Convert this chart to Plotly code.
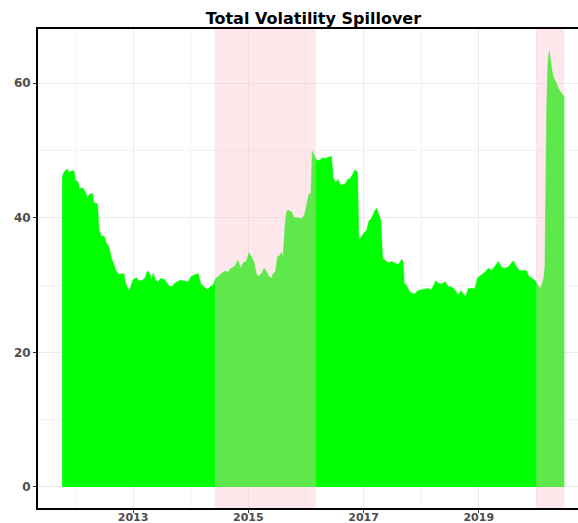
import plotly.graph_objects as go

# ---- data ----
years = [
    2011.769, 2011.786, 2011.815, 2011.861, 2011.884, 2011.913, 2011.942, 2011.977,
    2012.000, 2012.046, 2012.064, 2012.133, 2012.174, 2012.203, 2012.249, 2012.295,
    2012.324, 2012.382, 2012.411, 2012.451, 2012.498, 2012.538, 2012.584, 2012.625,
    2012.671, 2012.712, 2012.752, 2012.799, 2012.839, 2012.874, 2012.926, 2012.961,
    2013.001, 2013.059, 2013.100, 2013.157, 2013.204, 2013.250, 2013.291, 2013.319,
    2013.348, 2013.389, 2013.435, 2013.481, 2013.551, 2013.609, 2013.667, 2013.713,
    2013.771, 2013.811, 2013.898, 2013.956, 2014.002, 2014.060, 2014.130, 2014.176,
    2014.234, 2014.292, 2014.332, 2014.390, 2014.431, 2014.488, 2014.535, 2014.593,
    2014.650, 2014.697, 2014.766, 2014.824, 2014.865, 2014.911, 2014.969, 2015.009,
    2015.056, 2015.102, 2015.142, 2015.183, 2015.229, 2015.275, 2015.316, 2015.356,
    2015.403, 2015.432, 2015.472, 2015.507, 2015.547, 2015.576, 2015.605, 2015.634,
    2015.663, 2015.692, 2015.750, 2015.796, 2015.837, 2015.895, 2015.935, 2015.981,
    2016.010, 2016.051, 2016.086, 2016.109, 2016.144, 2016.184, 2016.242, 2016.282,
    2016.340, 2016.387, 2016.444, 2016.473, 2016.514, 2016.560, 2016.606, 2016.647,
    2016.688, 2016.722, 2016.763, 2016.803, 2016.850, 2016.896, 2016.919, 2016.965,
    2017.012, 2017.052, 2017.093, 2017.139, 2017.185, 2017.226, 2017.266, 2017.301,
    2017.330, 2017.370, 2017.428, 2017.486, 2017.544, 2017.602, 2017.660, 2017.689,
    2017.706, 2017.747, 2017.787, 2017.833, 2017.891, 2017.949, 2018.007, 2018.065,
    2018.123, 2018.181, 2018.250, 2018.296, 2018.354, 2018.412, 2018.470, 2018.528,
    2018.586, 2018.644, 2018.690, 2018.730, 2018.771, 2018.817, 2018.875, 2018.933,
    2018.979, 2019.049, 2019.107, 2019.164, 2019.222, 2019.280, 2019.338, 2019.396,
    2019.454, 2019.512, 2019.558, 2019.598, 2019.656, 2019.715, 2019.772, 2019.830,
    2019.870, 2019.928, 2019.975, 2020.021, 2020.061, 2020.090, 2020.131, 2020.148,
    2020.166, 2020.177, 2020.200, 2020.223, 2020.264, 2020.293, 2020.339, 2020.380,
    2020.438, 2020.484,
]
spillover = [
    45.8, 46.5, 46.9, 47.3, 46.7, 46.9, 47.0, 46.9,
    45.6, 45.3, 44.4, 44.4, 43.8, 43.0, 43.5, 43.6,
    42.2, 42.1, 38.2, 37.2, 37.3, 36.2, 35.6, 34.0,
    32.8, 32.0, 31.6, 31.6, 31.7, 30.2, 29.2, 29.8,
    30.8, 31.1, 30.6, 30.7, 31.0, 32.1, 31.7, 30.8,
    31.8, 30.7, 30.5, 31.0, 30.8, 30.0, 29.7, 30.2,
    30.5, 30.7, 30.6, 30.5, 31.2, 31.5, 31.7, 30.2,
    29.7, 29.3, 29.7, 30.0, 31.0, 31.3, 31.7, 32.1,
    31.9, 32.5, 32.8, 33.7, 32.5, 33.3, 33.6, 34.8,
    34.2, 33.3, 31.6, 31.3, 31.7, 32.5, 32.0, 31.3,
    31.0, 31.7, 32.0, 34.2, 34.4, 34.9, 34.2, 38.6,
    40.9, 41.1, 40.9, 40.0, 40.0, 39.9, 39.9, 40.6,
    41.9, 43.5, 43.6, 49.9, 49.3, 48.6, 48.5, 48.9,
    48.8, 49.0, 49.1, 46.0, 45.2, 45.7, 44.8, 45.0,
    45.1, 45.7, 45.8, 46.3, 47.1, 46.8, 36.7, 37.2,
    37.8, 38.1, 39.5, 39.9, 40.9, 41.4, 40.5, 39.6,
    34.0, 33.7, 33.3, 33.5, 33.2, 33.0, 33.8, 33.5,
    30.3, 29.9, 29.2, 28.8, 28.7, 29.2, 29.3, 29.4,
    29.5, 29.3, 30.6, 30.3, 30.1, 30.5, 29.8, 29.7,
    29.3, 28.5, 29.2, 28.7, 28.3, 29.5, 29.5, 29.5,
    31.1, 31.5, 31.9, 32.5, 32.2, 32.8, 33.5, 32.6,
    32.5, 32.7, 33.2, 33.6, 32.7, 32.1, 32.2, 32.1,
    31.3, 31.0, 30.7, 30.1, 29.5, 29.9, 31.2, 32.7,
    49.6, 56.0, 63.0, 64.8, 62.2, 60.9, 60.2, 59.2,
    58.5, 58.0,
]
# shaded crisis periods (start, end) in decimal years
crisis_start = [2014.419, 2019.997]
crisis_end = [2016.172, 2020.484]

x_tick_vals = [2013, 2015, 2017, 2019]
x_tick_text = ["2013", "2015", "2017", "2019"]
x_minor_vals = [2012, 2014, 2016, 2018, 2020]
y_tick_vals = [0, 20, 40, 60]
y_minor_vals = [10, 30, 50]

title_text = "Total Volatility Spillover"

# ---- figure ----
fig = go.Figure()
fig.add_trace(go.Scatter(
    x=years, y=spillover, mode="lines", fill="tozeroy",
    fillcolor="#00FF00", line=dict(color="#00FF00", width=0.5),
    hoverinfo="x+y", showlegend=False,
))

for s, e in zip(crisis_start, crisis_end):
    fig.add_shape(type="rect", xref="x", yref="paper", x0=s, x1=e, y0=0, y1=1,
                  fillcolor="rgba(255,192,203,0.37)", line=dict(width=0), layer="above")

tick_font = dict(family="DejaVu Sans", size=12, color="#4D4D4D", weight="bold")
xtick_font = dict(family="DejaVu Sans", size=11, color="#4D4D4D", weight="bold")

fig.update_layout(
    width=578, height=523,
    margin=dict(l=38, r=0, t=29, b=15, autoexpand=False),
    paper_bgcolor="white", plot_bgcolor="white",
    title=dict(text=title_text, x=0.51, xref="paper", xanchor="center",
               y=1 - 18.5 / 523, yref="container", yanchor="middle",
               font=dict(family="DejaVu Sans", size=16, color="black", weight="bold")),
    xaxis=dict(range=[2011.35, 2020.722], tickmode="array", tickvals=x_tick_vals,
               ticktext=x_tick_text, ticks="outside", ticklen=3, tickcolor="#333333",
               tickwidth=1, tickfont=xtick_font, ticklabelstandoff=-5,
               showgrid=True, gridcolor="#EBEBEB", automargin=False,
               gridwidth=1, zeroline=False, showline=True, linecolor="black",
               linewidth=2, mirror=True,
               minor=dict(tickmode="array", tickvals=x_minor_vals, showgrid=True,
                          gridcolor="#F3F3F3", gridwidth=1, ticklen=0)),
    yaxis=dict(range=[-3.13, 68.05], tickmode="array", tickvals=y_tick_vals,
               ticks="outside", ticklen=3, tickcolor="#333333", tickwidth=1,
               tickfont=tick_font, showgrid=True, gridcolor="#EBEBEB", gridwidth=1,
               automargin=False,
               zeroline=False, showline=True, linecolor="black", linewidth=2,
               minor=dict(tickmode="array", tickvals=y_minor_vals, showgrid=True,
                          gridcolor="#F3F3F3", gridwidth=1, ticklen=0)),
)

fig.write_html("out.html", config={"displayModeBar": False},
               post_script="document.body.style.margin='0';document.body.style.overflow='hidden';")
